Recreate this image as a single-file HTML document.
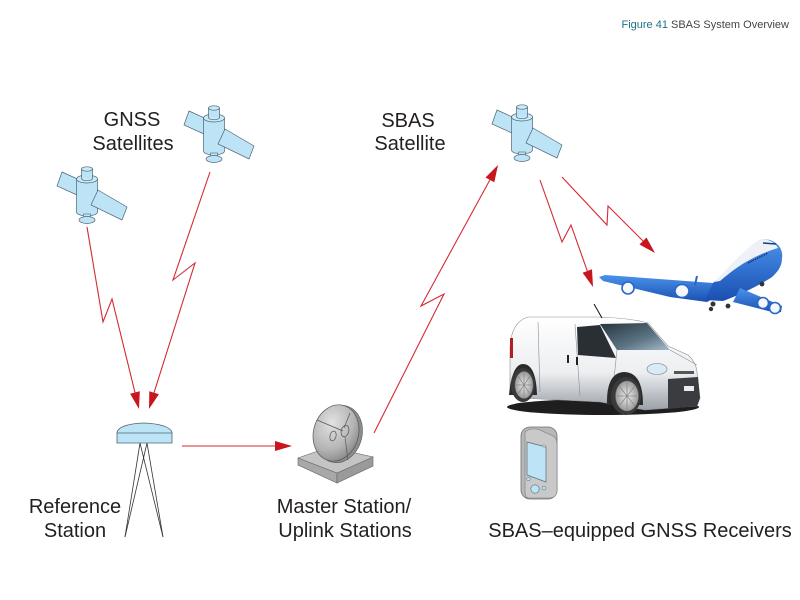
<!DOCTYPE html>
<html>
<head>
<meta charset="utf-8">
<style>
  html, body { margin:0; padding:0; background:#fff; }
  body { width:800px; height:600px; overflow:hidden; }
  svg { display:block; }
  .lbl { font-family:"Liberation Sans", sans-serif; font-size:20px; fill:#231f20; }
  .arr { fill:none; stroke:#d42a33; stroke-width:1.1; stroke-linejoin:miter; }
  .ah { fill:#c8161e; }
</style>
</head>
<body>
<svg width="800" height="600" viewBox="0 0 800 600" xmlns="http://www.w3.org/2000/svg">
  <defs>
    <g id="sat">
      <polygon points="-25,-7 -5,2 -10,16 -30,7" fill="#bde4f6" stroke="#4e6472" stroke-width="0.7"/>
      <rect x="-10.5" y="0" width="21" height="33" fill="#bde4f6" stroke="none"/>
      <line x1="-10.5" y1="0" x2="-10.5" y2="33" stroke="#4e6472" stroke-width="0.7"/>
      <line x1="10.5" y1="0" x2="10.5" y2="33" stroke="#4e6472" stroke-width="0.7"/>
      <path d="M-10.5,33 A10.5,4 0 0 0 10.5,33" fill="#bde4f6" stroke="#4e6472" stroke-width="0.7"/>
      <ellipse cx="0" cy="0" rx="10.5" ry="4" fill="#c9eaf8" stroke="#4e6472" stroke-width="0.7"/>
      <rect x="-5.5" y="-10" width="11" height="9.5" fill="#bde4f6"/>
      <line x1="-5.5" y1="-10" x2="-5.5" y2="-0.5" stroke="#4e6472" stroke-width="0.7"/>
      <line x1="5.5" y1="-10" x2="5.5" y2="-0.5" stroke="#4e6472" stroke-width="0.7"/>
      <path d="M-5.5,-0.5 A5.5,2.2 0 0 0 5.5,-0.5" fill="none" stroke="#4e6472" stroke-width="0.7"/>
      <ellipse cx="0" cy="-10" rx="5.5" ry="2.2" fill="#c9eaf8" stroke="#4e6472" stroke-width="0.7"/>
      <polygon points="11,11 40,28 35,41 4,26" fill="#bde4f6" stroke="#4e6472" stroke-width="0.7"/>
      <rect x="-3.5" y="35" width="7" height="4" fill="#bde4f6" stroke="#4e6472" stroke-width="0.6"/>
      <ellipse cx="0" cy="41" rx="8" ry="3.5" fill="#bde4f6" stroke="#4e6472" stroke-width="0.7"/>
    </g>
    <radialGradient id="dishG" cx="0.35" cy="0.35" r="0.8">
      <stop offset="0" stop-color="#e2e2e2"/>
      <stop offset="0.6" stop-color="#b4b4b4"/>
      <stop offset="1" stop-color="#7c7c7c"/>
    </radialGradient>
    <linearGradient id="vanG" x1="0" y1="0" x2="0" y2="1">
      <stop offset="0" stop-color="#ffffff"/>
      <stop offset="0.6" stop-color="#eceef0"/>
      <stop offset="1" stop-color="#9aa0a8"/>
    </linearGradient>
    <linearGradient id="wsG" x1="0" y1="0" x2="1" y2="1">
      <stop offset="0" stop-color="#26343e"/>
      <stop offset="0.6" stop-color="#5c7484"/>
      <stop offset="1" stop-color="#a8bccb"/>
    </linearGradient>
    <linearGradient id="blueG" x1="0" y1="0" x2="0" y2="1">
      <stop offset="0" stop-color="#4a92ea"/>
      <stop offset="1" stop-color="#1a4fb2"/>
    </linearGradient>
    <radialGradient id="rimG" cx="0.5" cy="0.5" r="0.5">
      <stop offset="0" stop-color="#f0f0f0"/>
      <stop offset="1" stop-color="#9a9a9a"/>
    </radialGradient>
  </defs>

  <text x="789" y="28" text-anchor="end" style="font-family:'Liberation Sans',sans-serif;font-size:11px;fill:#444"><tspan fill="#1b7384">Figure 41</tspan> SBAS System Overview</text>

  <text class="lbl" x="132" y="126" text-anchor="middle">GNSS</text>
  <text class="lbl" x="133" y="150" text-anchor="middle">Satellites</text>
  <text class="lbl" x="408" y="127" text-anchor="middle">SBAS</text>
  <text class="lbl" x="410" y="150" text-anchor="middle">Satellite</text>
  <text class="lbl" x="75" y="513" text-anchor="middle">Reference</text>
  <text class="lbl" x="75" y="537" text-anchor="middle">Station</text>
  <text class="lbl" x="344" y="513" text-anchor="middle">Master Station/</text>
  <text class="lbl" x="345" y="537" text-anchor="middle">Uplink Stations</text>
  <text class="lbl" x="640" y="537" text-anchor="middle" style="font-size:20px">SBAS–equipped GNSS Receivers</text>

  <use href="#sat" x="87" y="179"/>
  <use href="#sat" x="214" y="118"/>
  <use href="#sat" x="522" y="117"/>

  <polyline class="arr" points="87,227 103,322 112,299 135,392.5"/>
  <polygon class="ah" points="139,409 139.8,391.3 130.1,393.7"/>

  <polyline class="arr" points="210,172 173,280 195,263 154,392.8"/>
  <polygon class="ah" points="149,409 158.9,394.3 149.3,391.3"/>

  <line class="arr" x1="182" y1="446" x2="276" y2="446"/>
  <polygon class="ah" points="292,446 275,441 275,451"/>

  <polyline class="arr" points="374,433 444,294 421,306 489.9,179.9"/>
  <polygon class="ah" points="498,165 494.3,182.3 485.5,177.5"/>

  <polyline class="arr" points="540,180 562,242 571,225 587.3,271"/>
  <polygon class="ah" points="593,287 592,269.3 582.6,272.7"/>

  <polyline class="arr" points="562,177 607,225 608,206 643,241"/>
  <polygon class="ah" points="655,253 646.5,237.5 639.5,244.5"/>

  <g stroke="#333" stroke-width="0.8" fill="none">
    <line x1="140" y1="443" x2="125" y2="537"/>
    <line x1="140" y1="443" x2="163" y2="537"/>
    <line x1="147" y1="443" x2="125" y2="537"/>
    <line x1="147" y1="443" x2="163" y2="537"/>
  </g>
  <path d="M117,443 L117,432 Q120,424 144,423 Q168,424 172,432 L172,443 Z" fill="#bde4f6" stroke="#4e6472" stroke-width="0.8"/>
  <line x1="117" y1="433" x2="172" y2="433" stroke="#4e6472" stroke-width="0.8"/>

  <polygon points="298,458 298,465 337,483 337,473" fill="#a8a8a8" stroke="#666" stroke-width="0.6"/>
  <polygon points="337,473 337,483 373,466 373,457" fill="#9a9a9a" stroke="#666" stroke-width="0.6"/>
  <polygon points="298,458 329,447 373,457 337,473" fill="#c4c4c4" stroke="#666" stroke-width="0.6"/>
  <ellipse cx="339" cy="434" rx="23" ry="29" transform="rotate(15 339 434)" fill="#8c8c8c" stroke="#555" stroke-width="0.6"/>
  <ellipse cx="336" cy="433" rx="22.5" ry="28.5" transform="rotate(15 336 433)" fill="url(#dishG)" stroke="#555" stroke-width="0.7"/>
  <g stroke="#555" stroke-width="0.7" fill="none">
    <line x1="317" y1="420" x2="343" y2="431"/>
    <line x1="350" y1="413" x2="344" y2="428"/>
    <line x1="345" y1="437" x2="348" y2="460"/>
    <ellipse cx="333" cy="436" rx="3" ry="5" transform="rotate(15 333 436)"/>
    <ellipse cx="345" cy="431" rx="3.8" ry="5.8" transform="rotate(15 345 431)"/>
  </g>

  <!-- Airplane -->
  <polygon points="599,277 605,275 713,283 725,292 707,302 670,297 603,281" fill="url(#blueG)"/>
  <line x1="695" y1="285" x2="697" y2="276" stroke="#2a66c8" stroke-width="2"/>
  <path d="M782,258 C784,246 772,237 760,240 C745,248 730,268 713,283 L705,300 L723,301 C740,295 760,285 772,277 C780,270 782,264 782,258 Z" fill="url(#blueG)"/>
  <path d="M760,240 C745,248 730,266 714,282 L720,281 C735,268 752,256 778,248 C775,242 767,238 760,240 Z" fill="#eef2f7"/>
  <path d="M763,243 L776,244" stroke="#1a3d7a" stroke-width="1.5"/>
  <line x1="748" y1="263" x2="768" y2="253" stroke="#0f2f66" stroke-width="1.3" stroke-dasharray="1.5,1"/>
  <polygon points="740,288 782,306 781,312 776,313 733,302" fill="url(#blueG)"/>
  <g stroke="#2a66c8" stroke-width="1.6" fill="#f4f7fb">
    <ellipse cx="628" cy="288" rx="6" ry="6"/>
    <ellipse cx="682" cy="291" rx="7" ry="6.5"/>
    <ellipse cx="763" cy="303" rx="5.5" ry="5.5"/>
    <ellipse cx="775" cy="308" rx="5.5" ry="5.5"/>
  </g>
  <g fill="#333">
    <circle cx="713" cy="304" r="2.5"/>
    <circle cx="711" cy="309" r="2.2"/>
    <circle cx="728" cy="306" r="2.4"/>
    <circle cx="762" cy="284" r="2.4"/>
  </g>

  <!-- Van -->
  <ellipse cx="603" cy="407" rx="96" ry="8" fill="#1e1e1e"/>
  <path d="M510,348 Q511,322 528,317 L598,317 Q630,318 648,323 L668,346 L688,355 Q696,362 697,372 L700,398 L697,406 L645,410 L600,402 L520,398 L510,392 Z" fill="url(#vanG)" stroke="#8a8e94" stroke-width="0.6"/>
  <path d="M668,379 L698,377 L700,398 L697,406 L668,409 Z" fill="#3a3c40"/>
  <rect x="684" y="386" width="10" height="5" fill="#e8ecf0"/>
  <path d="M600,324 L647,323 L670,350 L617,350 Z" fill="url(#wsG)"/>
  <path d="M577,327 L600,325 L616,358 L578,355 Z" fill="#2a2f35"/>
  <g stroke="#8a8e94" stroke-width="0.6" fill="none">
    <line x1="538" y1="322" x2="540" y2="392"/>
    <line x1="575" y1="324" x2="580" y2="396"/>
    <line x1="617" y1="350" x2="612" y2="398"/>
    <line x1="670" y1="350" x2="697" y2="365"/>
  </g>
  <rect x="567" y="355" width="2" height="8" fill="#222"/>
  <rect x="576" y="357" width="2" height="8" fill="#222"/>
  <rect x="510" y="338" width="3" height="20" fill="#b02020"/>
  <ellipse cx="657" cy="369" rx="10" ry="5.5" fill="#d8ebf7" stroke="#777" stroke-width="0.6"/>
  <rect x="674" y="371" width="20" height="3" fill="#555"/>
  <path d="M509,395 Q512,364 523,364 Q536,364 537,395 Z" fill="#2b2b2b"/>
  <path d="M607,405 Q606,372 625,372 Q643,373 643,405 Z" fill="#2b2b2b"/>
  <ellipse cx="523" cy="385" rx="12" ry="17" fill="#3a3a3a"/>
  <ellipse cx="524" cy="385" rx="9" ry="13.5" fill="url(#rimG)" stroke="#777" stroke-width="0.5"/>
  <ellipse cx="626" cy="396" rx="15" ry="19" fill="#3a3a3a"/>
  <ellipse cx="627" cy="396" rx="11.5" ry="15" fill="url(#rimG)" stroke="#777" stroke-width="0.5"/>
  <g stroke="#888" stroke-width="0.8">
    <line x1="524" y1="372" x2="524" y2="398"/>
    <line x1="516" y1="385" x2="532" y2="385"/>
    <line x1="518" y1="376" x2="530" y2="394"/>
    <line x1="530" y1="376" x2="518" y2="394"/>
    <line x1="627" y1="382" x2="627" y2="410"/>
    <line x1="617" y1="396" x2="637" y2="396"/>
    <line x1="619" y1="386" x2="635" y2="406"/>
    <line x1="635" y1="386" x2="619" y2="406"/>
  </g>
  <line x1="594" y1="304" x2="602" y2="318" stroke="#111" stroke-width="1"/>

  <!-- Handheld receiver -->
  <rect x="521" y="427" width="36" height="72" rx="9" fill="#b8b8b8" stroke="#6e6e6e" stroke-width="0.8"/>
  <path d="M525,432 Q530,427 540,430 L553,436 Q557,438 557,444 L557,490 Q557,498 549,498 L529,498 Q525,498 525,492 Z" fill="#c9c9c9" stroke="#7a7a7a" stroke-width="0.6"/>
  <polygon points="527,442 546,447 546,482 527,475" fill="#bde4f6" stroke="#5a6a74" stroke-width="0.7"/>
  <circle cx="535" cy="489" r="4.2" fill="#bde4f6" stroke="#5a6a74" stroke-width="0.6"/>
  <circle cx="528.5" cy="479" r="1.8" fill="#bde4f6" stroke="#5a6a74" stroke-width="0.5"/>
  <circle cx="544" cy="488" r="2" fill="#bde4f6" stroke="#5a6a74" stroke-width="0.5"/>
  <circle cx="544" cy="446" r="1.3" fill="#bde4f6" stroke="#5a6a74" stroke-width="0.4"/>
</svg>
</body>
</html>
